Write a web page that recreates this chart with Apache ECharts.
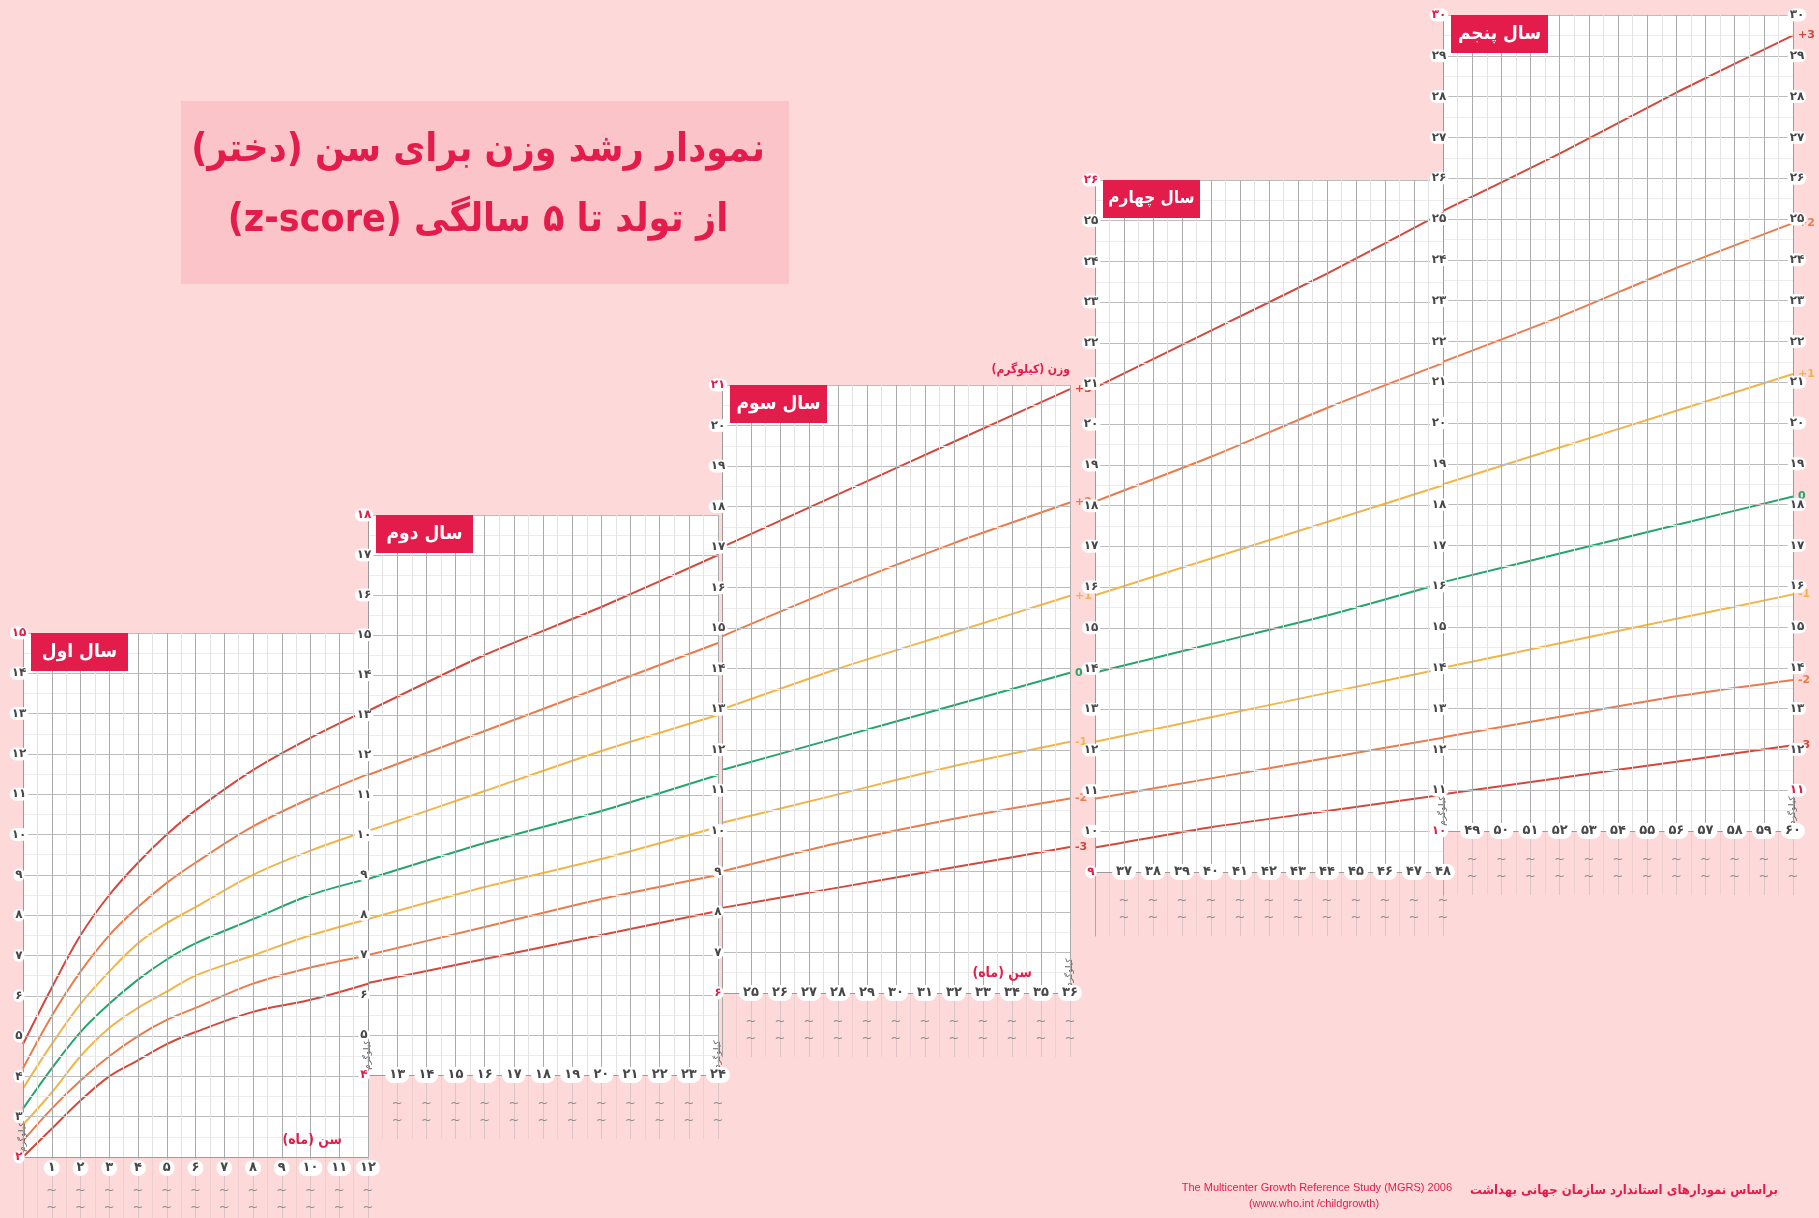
<!DOCTYPE html>
<html><head><meta charset="utf-8">
<script src="https://cdn.jsdelivr.net/npm/echarts@6/dist/echarts.min.js"></script>
<style>html,body{margin:0;padding:0;background:#fdd9d9;}#c{width:1819px;height:1218px;}</style>
</head><body><div id="c"></div>
<script>
// ---------------- DATA ----------------
const months = [0,1,2,3,4,5,6,7,8,9,10,11,12,13,14,15,16,17,18,19,20,21,22,23,24,25,26,27,28,29,30,31,32,33,34,35,36,37,38,39,40,41,42,43,44,45,46,47,48,49,50,51,52,53,54,55,56,57,58,59,60];
const zM3 = [2.0,2.7,3.4,4.0,4.4,4.8,5.1,5.3,5.6,5.8,5.9,6.1,6.3,6.4,6.6,6.7,6.9,7.0,7.2,7.3,7.5,7.6,7.8,7.9,8.1,8.2,8.4,8.5,8.6,8.8,8.9,9.0,9.1,9.3,9.4,9.5,9.6,9.7,9.8,9.9,10.1,10.2,10.3,10.4,10.5,10.6,10.7,10.8,10.9,11.0,11.1,11.2,11.3,11.4,11.5,11.6,11.7,11.8,11.9,12.0,12.1];
const zM2 = [2.4,3.2,3.9,4.5,5.0,5.4,5.7,6.0,6.3,6.5,6.7,6.9,7.0,7.2,7.4,7.6,7.7,7.9,8.1,8.2,8.4,8.6,8.7,8.9,9.0,9.2,9.4,9.5,9.7,9.8,10.0,10.1,10.3,10.4,10.5,10.7,10.8,10.9,11.1,11.2,11.3,11.5,11.6,11.7,11.8,12.0,12.1,12.2,12.3,12.4,12.6,12.7,12.8,12.9,13.0,13.2,13.3,13.4,13.5,13.6,13.7];
const zM1 = [2.8,3.6,4.5,5.2,5.7,6.1,6.5,6.8,7.0,7.3,7.5,7.7,7.9,8.1,8.3,8.5,8.7,8.9,9.1,9.2,9.4,9.6,9.8,10.0,10.2,10.3,10.5,10.7,10.9,11.1,11.2,11.4,11.6,11.7,11.9,12.0,12.2,12.4,12.5,12.7,12.8,13.0,13.1,13.3,13.4,13.6,13.7,13.9,14.0,14.2,14.3,14.5,14.6,14.8,14.9,15.1,15.2,15.3,15.5,15.6,15.8];
const z0  = [3.2,4.2,5.1,5.8,6.4,6.9,7.3,7.6,7.9,8.2,8.5,8.7,8.9,9.2,9.4,9.6,9.8,10.0,10.2,10.4,10.6,10.9,11.1,11.3,11.5,11.7,11.9,12.1,12.3,12.5,12.7,12.9,13.1,13.3,13.5,13.7,13.9,14.0,14.2,14.4,14.6,14.8,15.0,15.2,15.3,15.5,15.7,15.9,16.1,16.3,16.4,16.6,16.8,17.0,17.2,17.3,17.5,17.7,17.9,18.0,18.2];
const zP1 = [3.7,4.8,5.8,6.6,7.3,7.8,8.2,8.6,9.0,9.3,9.6,9.9,10.1,10.4,10.6,10.9,11.1,11.4,11.6,11.8,12.1,12.3,12.5,12.8,13.0,13.3,13.5,13.7,14.0,14.2,14.4,14.7,14.9,15.1,15.4,15.6,15.8,16.0,16.3,16.5,16.7,16.9,17.2,17.4,17.6,17.8,18.1,18.3,18.5,18.8,19.0,19.2,19.4,19.7,19.9,20.1,20.3,20.6,20.8,21.0,21.2];
const zP2 = [4.2,5.5,6.6,7.5,8.2,8.8,9.3,9.8,10.2,10.5,10.9,11.2,11.5,11.8,12.1,12.4,12.6,12.9,13.2,13.5,13.7,14.0,14.3,14.6,14.8,15.1,15.4,15.7,16.0,16.2,16.5,16.8,17.1,17.3,17.6,17.9,18.1,18.4,18.7,19.0,19.2,19.5,19.8,20.1,20.4,20.7,20.9,21.2,21.5,21.8,22.1,22.4,22.6,22.9,23.2,23.5,23.8,24.1,24.4,24.6,24.9];
const zP3 = [4.8,6.2,7.5,8.5,9.3,10.0,10.6,11.1,11.6,12.0,12.4,12.8,13.1,13.5,13.8,14.1,14.5,14.8,15.1,15.4,15.7,16.0,16.4,16.7,17.0,17.3,17.7,18.0,18.3,18.7,19.0,19.3,19.6,20.0,20.3,20.6,20.9,21.3,21.6,22.0,22.3,22.7,23.0,23.4,23.7,24.1,24.5,24.8,25.2,25.5,25.9,26.3,26.6,27.0,27.4,27.7,28.1,28.5,28.8,29.2,29.5];
const zNames = ['+3','+2','+1','0','-1','-2','-3'];
const panelNames = ['سال اول','سال دوم','سال سوم','سال چهارم','سال پنجم'];
const monthRanges = [[0,12],[12,24],[24,36],[36,48],[48,60]];
const kgRanges = [[2,15],[4,18],[6,21],[9,26],[10,30]];
const titleLine1 = 'نمودار رشد وزن برای سن (دختر)';
const titleLine2 = 'از تولد تا ۵ سالگی (z-score)';
const ageName = 'سن (ماه)';
const kgName = 'کیلوگرم';
const weightName = 'وزن (کیلوگرم)';
const footFa = 'براساس نمودارهای استاندارد سازمان جهانی بهداشت';
const footEn1 = 'The Multicenter Growth Reference Study (MGRS) 2006';
const footEn2 = '(www.who.int /childgrowth)';

// ---------------- STYLE / LAYOUT ----------------
const CRIMSON = '#e31c4b', RED = '#d4473a', ORANGE = '#ea7b4c', YELLOW = '#f1b54a', GREEN = '#25a56c';
const zSeries = [zP3, zP2, zP1, z0, zM1, zM2, zM3];
const zColors = [RED, ORANGE, YELLOW, GREEN, YELLOW, ORANGE, RED];
const BOX = [
  {l:23,   r:368,  t:633, b:1157},
  {l:368,  r:718,  t:515, b:1075},
  {l:722,  r:1070, t:385, b:993},
  {l:1095, r:1443, t:180, b:872},
  {l:1443, r:1793, t:15,  b:831}
];
const FONT = 'DejaVu Sans';
const FONTC = '"DejaVu Sans Condensed", "DejaVu Sans"';
const FA = '۰۱۲۳۴۵۶۷۸۹';
const fa = v => String(v).replace(/\d/g, d => FA[d]);
const rtl = s => '\u202B' + s + '\u202C';

const grids = [], xAxes = [], yAxes = [], series = [], graphics = [];
BOX.forEach(b => grids.push({left:b.l, top:b.t, width:b.r-b.l, height:b.b-b.t, show:true, backgroundColor:'#ffffff', borderWidth:0}));
BOX.forEach((b,i) => grids.push({left:b.l, top:b.b, width:b.r-b.l, height:i===0?61:64, show:false}));

const nameStyle = {color:'#666', fontSize:9, fontFamily:FONT, align:'center', verticalAlign:'middle'};
const kgNameOpts = {name:rtl(kgName), nameLocation:'start', nameGap:-20, nameRotate:90, nameMoveOverlap:false, nameTextStyle:nameStyle};
const leftY = [];
BOX.forEach((b,i) => {
  const [m0,m1] = monthRanges[i], [k0,k1] = kgRanges[i];
  xAxes.push({
    gridIndex:i, type:'value', min:m0, max:m1, interval:1, z:3,
    axisLine:{show:true, onZero:false, lineStyle:{color:'#9b9b9b', width:1}},
    axisTick:{show:false},
    axisLabel:{showMinLabel:false, formatter:fa, color:'#474747', fontFamily:FONT, fontWeight:'bold', fontSize:13,
      backgroundColor:'#ffffff', borderRadius:8, padding:[2,4,1,4], verticalAlign:'middle', margin: i===0 ? 11 : 0},
    splitLine:{show:true, lineStyle:{color:'#ababab', width:1}},
    minorTick:{show:false, splitNumber:2},
    minorSplitLine:{show:true, lineStyle:{color:'#e3e3e3', width:1}},
    name: (i===0||i===2) ? rtl(ageName) : '', nameMoveOverlap:false,
    nameLocation:'end', nameGap: i===0 ? -26 : -38,
    nameTextStyle:{color:CRIMSON, fontWeight:'bold', fontSize:14, fontFamily:FONTC, align:'right', verticalAlign:'bottom', padding:[0,0, i===0?10:13, 0]}
  });
  leftY[i] = yAxes.length;
  const yl = {
    gridIndex:i, type:'value', min:k0, max:k1, interval:1, position:'left', z:3,
    axisLine:{show:true, lineStyle:{color:'#9b9b9b'}}, axisTick:{show:false},
    axisLabel:{formatter:fa, color:v => (+v===k0||+v===k1) ? CRIMSON : '#474747', align:'center', margin:4,
      fontSize:12, fontWeight:'bold', fontFamily:FONT, backgroundColor:'#ffffff', borderRadius:7, padding:[1,2,0,2]},
    splitLine:{show:true, lineStyle:{color:'#bcbcbc'}},
    minorTick:{show:false, splitNumber:2},
    minorSplitLine:{show:true, lineStyle:{color:'#ececec'}}
  };
  if (i===0||i===1||i===4) Object.assign(yl, kgNameOpts);
  yAxes.push(yl);
  if (i===1 || i===2) {
    yAxes.push(Object.assign({gridIndex:i, type:'value', min:k0, max:k1, position:'right', axisLine:{show:false}, axisTick:{show:false},
      axisLabel:{show:false}, splitLine:{show:false}}, kgNameOpts));
  }
  if (i===2) {
    yAxes.push({gridIndex:i, type:'value', min:k0, max:k1, position:'right', axisLine:{show:false}, axisTick:{show:false},
      axisLabel:{show:false}, splitLine:{show:false}, name:rtl(weightName), nameLocation:'end', nameGap:9, nameMoveOverlap:false,
      nameTextStyle:{color:CRIMSON, fontWeight:'bold', fontSize:12, fontFamily:FONTC, align:'right', verticalAlign:'bottom'}});
  }
  if (i===4) {
    yAxes.push(Object.assign({gridIndex:i, type:'value', min:k0, max:k1, interval:1, position:'right', z:3,
      axisLine:{show:true, lineStyle:{color:'#9b9b9b'}}, axisTick:{show:false},
      axisLabel:{showMinLabel:false, formatter:fa, color:v => (+v===k0+1) ? CRIMSON : '#474747', align:'center', margin:4,
        fontSize:12, fontWeight:'bold', fontFamily:FONT, backgroundColor:'#ffffff', borderRadius:7, padding:[1,2,0,2]},
      splitLine:{show:false}}, kgNameOpts));
  }
});
// extension (faint) grids under each panel
BOX.forEach((b,i) => {
  const [m0,m1] = monthRanges[i];
  xAxes.push({gridIndex:5+i, type:'value', min:m0, max:m1, interval:1, position:'top', z:-1,
    axisLine:{show:false}, axisTick:{show:false},
    axisLabel:{inside:true, showMinLabel:false, formatter:() => '~\n~', color:'#8d8d8d', fontSize:13, lineHeight:17,
      verticalAlign:'top', margin: i===0 ? 25 : 20, fontFamily:FONT},
    splitLine:{show:true, lineStyle:{color:'rgba(150,150,150,0.30)'}},
    minorTick:{show:false, splitNumber:2},
    minorSplitLine:{show:true, lineStyle:{color:'rgba(150,150,150,0.14)'}}
  });
  yAxes.push({gridIndex:5+i, type:'value', min:0, max:1, position:'left', z:-1,
    axisLine:{show:i>0, lineStyle:{color:'#a9a9a9'}}, axisTick:{show:false}, axisLabel:{show:false}, splitLine:{show:false}});
});

// curves (first year: monthly to 6 months, then bi-monthly; later years every 4 months)
const year1Months = [0,1,2,3,4,5,6,8,10,12];
BOX.forEach((b,i) => {
  const [m0,m1] = monthRanges[i];
  const ms = i===0 ? months.filter(m => year1Months.includes(m))
                   : months.filter(m => m >= m0 && m <= m1 && (m - m0) % 4 === 0);
  zSeries.forEach((arr,k) => {
    series.push({
      type:'line', xAxisIndex:i, yAxisIndex:leftY[i], name:zNames[k],
      data: ms.map(m => [m, arr[m]]),
      showSymbol:false, smooth: i===0 ? 0.35 : 0.2, z:2,
      lineStyle:{color:zColors[k], width:2},
      endLabel:{show: i===2 || i===4, formatter:zNames[k], color:zColors[k], fontSize:11, fontWeight:'bold', fontFamily:FONT, distance:5},
      emphasis:{disabled:true}, silent:true
    });
  });
});

// decorations
graphics.push({type:'rect', shape:{x:181, y:101, width:608, height:183}, style:{fill:'#fbc4c8'}, z:1});
graphics.push({type:'text', x:478, y:151, z:2, style:{text:rtl(titleLine1), font:'bold 39px ' + FONTC, fill:CRIMSON, align:'center', verticalAlign:'middle'}});
graphics.push({type:'text', x:478, y:221, z:2, style:{text:rtl(titleLine2), font:'bold 39px ' + FONTC, fill:CRIMSON, align:'center', verticalAlign:'middle'}});
BOX.forEach((b,i) => {
  graphics.push({type:'rect', shape:{x:b.l+8, y:b.t, width:97, height:38}, style:{fill:CRIMSON}, z:100});
  graphics.push({type:'text', x:b.l+8+48.5, y:b.t+19, z:101, style:{text:rtl(panelNames[i]), font:'bold ' + (i===3 ? 17 : 19) + 'px ' + FONTC, fill:'#ffffff', align:'center', verticalAlign:'middle'}});
});
graphics.push({type:'text', x:1778, y:1191, z:2, style:{text:rtl(footFa), font:'bold 13px ' + FONTC, fill:CRIMSON, align:'right', verticalAlign:'middle'}});
graphics.push({type:'text', x:1452, y:1188, z:2, style:{text:footEn1, font:'11px "Liberation Sans"', fill:CRIMSON, align:'right', verticalAlign:'middle'}});
graphics.push({type:'text', x:1314, y:1204, z:2, style:{text:footEn2, font:'11px "Liberation Sans"', fill:CRIMSON, align:'center', verticalAlign:'middle'}});

const chart = echarts.init(document.getElementById('c'));
chart.setOption({
  backgroundColor:'#fdd9d9', animation:false,
  grid:grids, xAxis:xAxes, yAxis:yAxes, series:series, graphic:graphics
});
</script></body></html>
